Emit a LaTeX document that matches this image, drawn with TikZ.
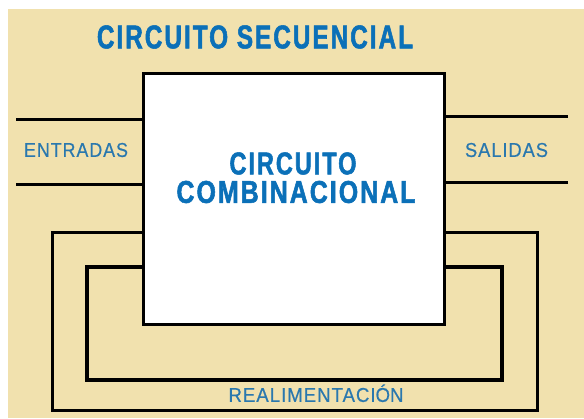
\documentclass[tikz,border=0pt]{standalone}
\usepackage{graphicx}
\usepackage{fontspec}
\setmainfont{Liberation Sans}
\newfontfamily\condb[FakeStretch=0.72,LetterSpace=6,FakeBold=1.6]{Liberation Sans Bold}
\newfontfamily\condr[FakeStretch=0.75,LetterSpace=4,FakeBold=0.4]{Liberation Sans}
\definecolor{bg}{HTML}{F1E1AE}
\definecolor{tblue}{HTML}{0B70B8}
\definecolor{lblue}{HTML}{2A78AE}
\begin{document}
\begin{tikzpicture}[x=1pt,y=-1pt,
  wire/.style={line width=3pt,black},
  big/.style={inner sep=0pt,text=tblue,font=\condb},
  lab/.style={inner sep=0pt,text=lblue,font=\condr}]
\useasboundingbox (0,0) rectangle (584,418);
\fill[white] (0,0) rectangle (584,418);
\fill[bg] (8,9) rectangle (584,418);
% title
\node[big] (title) at (255,37) {\resizebox{316pt}{23pt}{CIRCUITO SECUENCIAL}};
% combinational box
\node[draw=black,fill=white,line width=3.2pt,minimum width=301pt,minimum height=251pt,inner sep=0pt,anchor=north west] (cc) at (142,72) {};
\node[big] (t1) at (293,163.5) {\resizebox{127pt}{22pt}{CIRCUITO}};
\node[big] (t2) at (296,192) {\resizebox{239pt}{22pt}{COMBINACIONAL}};
% inputs
\coordinate (i1) at (16,119);
\coordinate (i2) at (16,184);
\draw[wire] (i1) -- (i1 -| cc.west);
\draw[wire] (i2) -- (i2 -| cc.west);
\node[lab] (ent) at (76,150) {\resizebox{104pt}{14pt}{ENTRADAS}};
% outputs
\coordinate (o1) at (568,116);
\coordinate (o2) at (568,182);
\draw[wire] (o1) -- (o1 -| cc.east);
\draw[wire] (o2) -- (o2 -| cc.east);
\node[lab] (sal) at (506.5,150) {\resizebox{83pt}{14pt}{SALIDAS}};
% feedback loops
\coordinate (a1) at (52,232);
\coordinate (a2) at (537,410);
\draw[wire] (cc.west |- a1) -- (a1) |- (a2) |- (cc.east |- a1);
\coordinate (b1) at (87,267);
\coordinate (b2) at (502,380);
\draw[wire,line width=3.4pt] (cc.west |- b1) -- (b1) |- (b2) |- (cc.east |- b1);
\node[lab] (real) at (316,395) {\resizebox{175pt}{14pt}{REALIMENTACI\smash{Ó}N}};
\end{tikzpicture}
\end{document}
